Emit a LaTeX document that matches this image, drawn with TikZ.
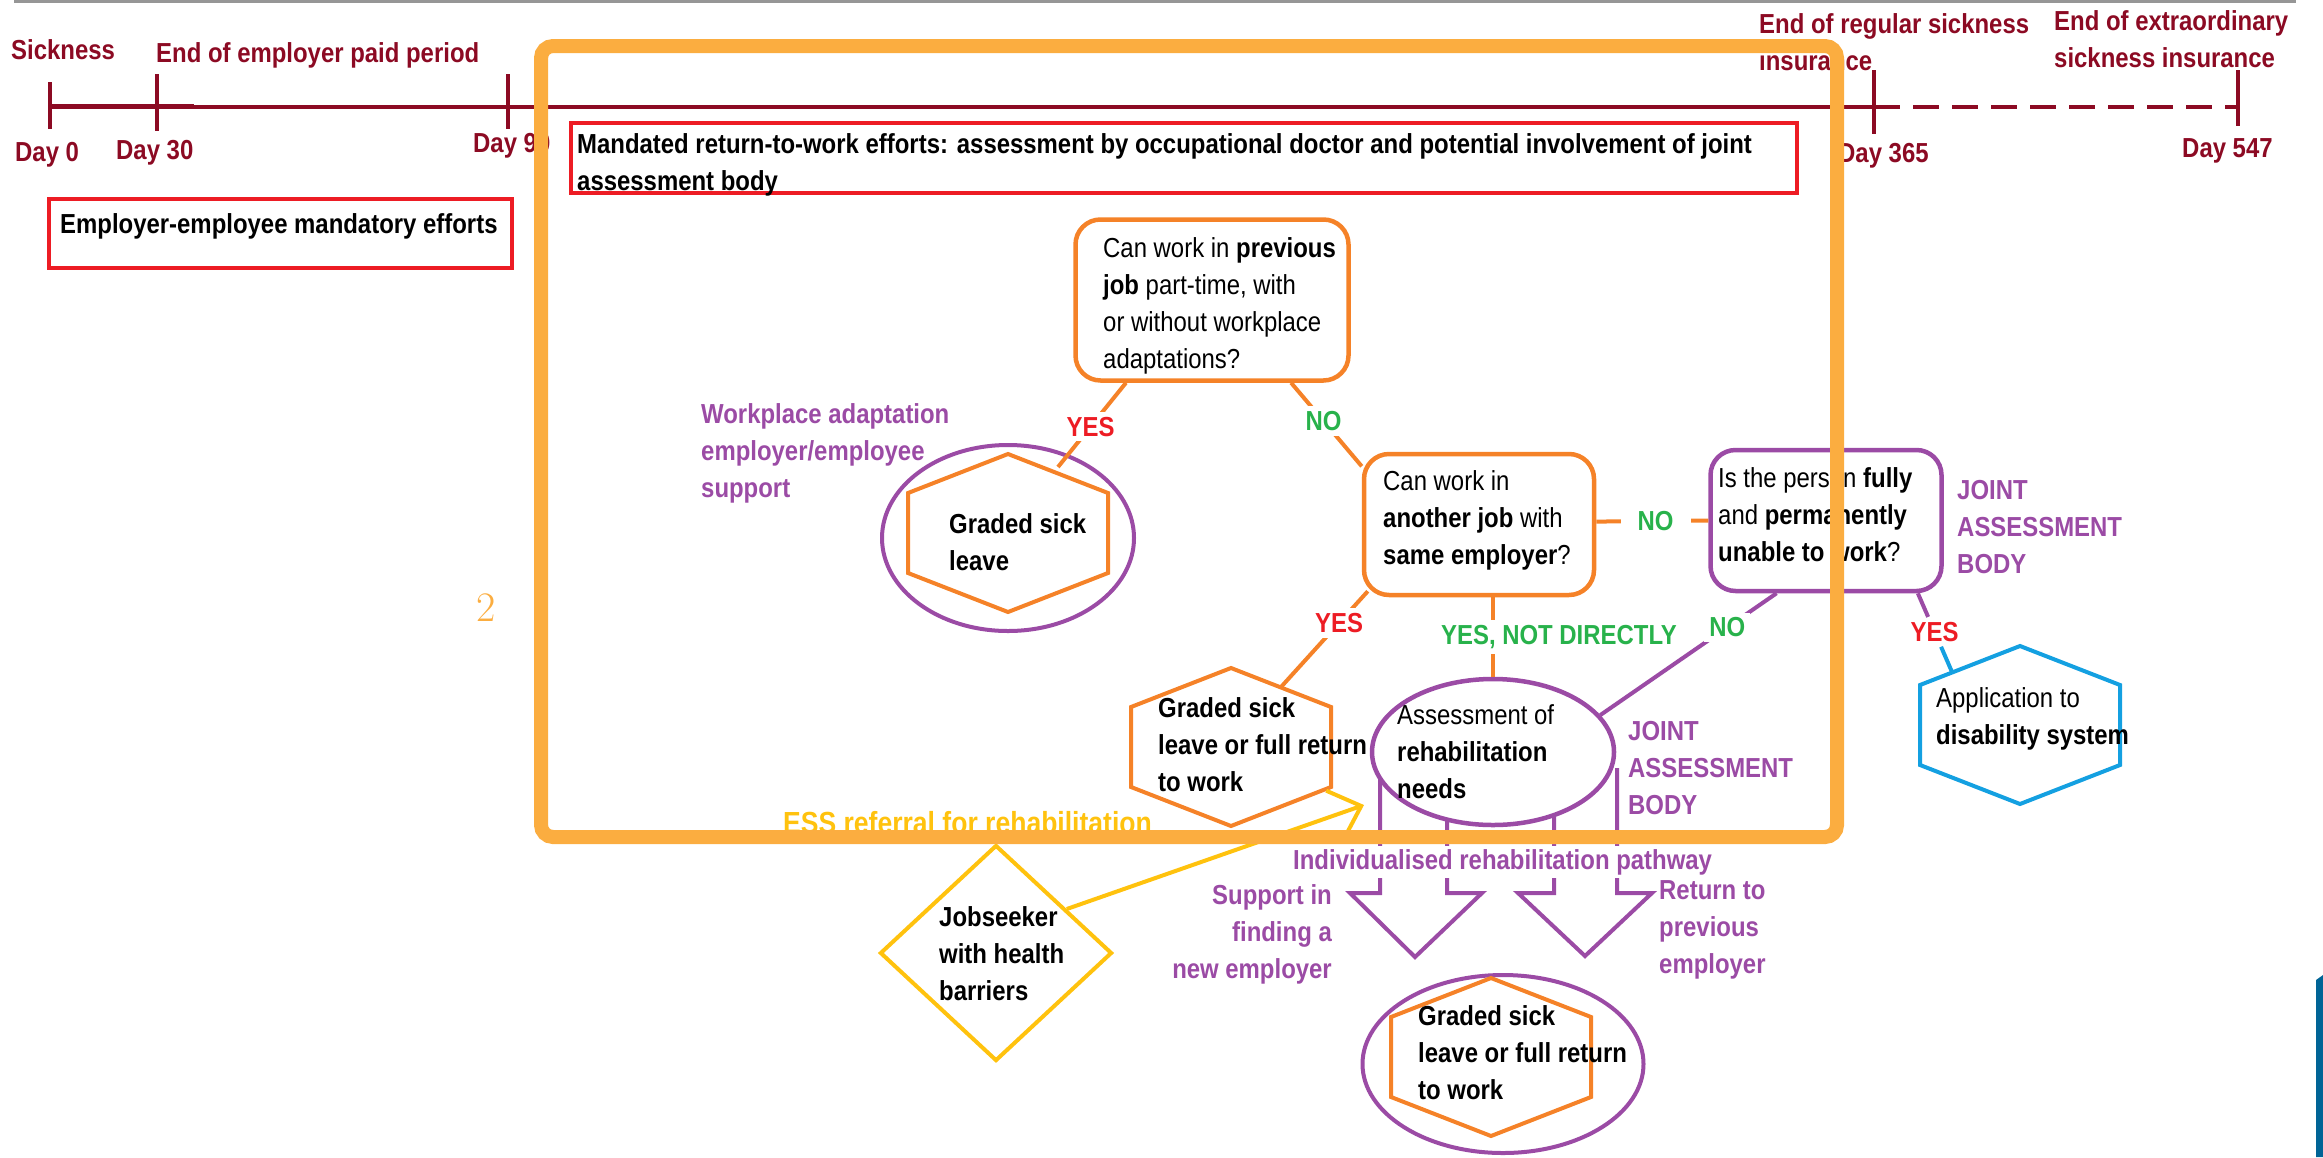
\documentclass[tikz,border=0pt]{standalone}
\usepackage{fontspec}
\setmainfont{Liberation Sans}[FakeStretch=0.87]
\usetikzlibrary{arrows.meta,calc,shapes.geometric}
\definecolor{tlred}{RGB}{140,10,35}
\definecolor{boxred}{RGB}{237,28,36}
\definecolor{frameor}{RGB}{251,173,64}
\definecolor{nodeor}{RGB}{245,130,40}
\definecolor{purp}{RGB}{155,75,165}
\definecolor{grn}{RGB}{40,178,75}
\definecolor{ylw}{RGB}{255,194,14}
\definecolor{blu}{RGB}{20,160,225}
\definecolor{barblue}{RGB}{0,100,150}
\definecolor{topgray}{RGB}{150,150,150}
\newcommand{\myfs}{\fontsize{27.5}{37}\selectfont}
\tikzset{
  pics/hexa/.style={code={\draw[pic actions] (0,-79) -- (100,-40) -- (100,40) -- (0,79) -- (-100,40) -- (-100,-40) -- cycle;}},
  txt/.style={anchor=north west, align=left, inner sep=0pt, text=black, font=\myfs},
  bt/.style={txt, font=\myfs\bfseries},
  tltext/.style={txt, text=tlred, font=\myfs\bfseries},
  purptxt/.style={txt, text=purp, font=\myfs\bfseries},
  lbl/.style={fill=white, inner sep=5pt, font=\myfs\bfseries},
  conn/.style={line width=4pt},
  redbox/.style={draw=boxred, line width=4pt, inner sep=0pt},
  dbox/.style={line width=4.5pt, rounded corners=25pt, inner sep=0pt},
  tick/.style={draw=tlred, line width=4pt},
  blockarrow/.style={draw=purp, line width=4pt, line join=miter},
}
\begin{document}
\begin{tikzpicture}[x=1pt, y=-1pt]
\useasboundingbox (0,0) rectangle (2323,1157);
% top rule
\draw[topgray, line width=2.5pt] (14,1.5) -- (2296,1.5);
% timeline
\draw[tlred, line width=5pt] (49.5,106) -- (194,106);
\draw[tlred, line width=4pt] (194,107) -- (1874,107);
\draw[tlred, line width=4pt, dash pattern=on 26pt off 13pt] (1874,107) -- (2238,107);
\draw[tick] (49.5,82) -- (49.5,129);
\draw[tick] (157,74) -- (157,131);
\draw[tick] (508,74) -- (508,129);
\draw[tick] (1874,70) -- (1874,134);
\draw[tick] (2238,70) -- (2238,126);
\node[tltext] (sick) at (11,39) {Sickness};
\node[tltext] (endemp) at (156,42) {End of employer paid period};
\node[tltext] (endreg) at (1759,13) {End of regular sickness\\insurance};
\node[tltext] (endext) at (2054,10) {End of extraordinary\\sickness insurance};
\node[tltext] (d0) at (15,142) {Day 0};
\node[tltext] (d30) at (116,140) {Day 30};
\node[tltext] (d90) at (473,133) {Day 90};
\node[tltext] (d365) at (1838,143) {Day 365};
\node[tltext] (d547) at (2182,138) {Day 547};
% red boxes
\node[redbox, minimum width=463pt, minimum height=69pt] (effbox) at (280.5,233.5) {};
\node[bt] (efftxt) at (60,213) {Employer-employee mandatory efforts};
\node[redbox, minimum width=1226pt, minimum height=70pt] (mandbox) at (1184,158) {};
\node[bt] (mandtxt) at (577,133) {Mandated return-to-work efforts: assessment by occupational doctor and potential involvement of joint\\assessment body};
% decision boxes
\node[dbox, draw=nodeor, minimum width=273pt, minimum height=161pt] (q1) at (1212,300) {};
\node[txt] (q1t) at (1103,237) {Can work in \textbf{previous}\\\textbf{job} part-time, with\\or without workplace\\adaptations?};
\node[dbox, draw=nodeor, minimum width=230pt, minimum height=141pt] (q2) at (1479,524.5) {};
\node[txt] (q2t) at (1383,470) {Can work in\\\textbf{another job} with\\\textbf{same employer}?};
\node[dbox, draw=purp, minimum width=231pt, minimum height=141pt] (q3) at (1826,520.5) {};
\node[txt] (q3t) at (1718,467) {Is the person \textbf{fully}\\and \textbf{permanently}\\\textbf{unable to work}?};
% graded sick leave (left)
\node[ellipse, draw=purp, line width=4pt, inner sep=0pt, minimum width=252pt, minimum height=186pt] (eA) at (1008,538) {};
\pic[draw=nodeor, line width=4pt] at (1008,533) {hexa};
\node[bt] (hAt) at (949,513) {Graded sick\\leave};
\node[purptxt] (wpa) at (701,403) {Workplace adaptation\\employer/employee\\support};
% graded sick leave or full return (middle)
\pic[draw=nodeor, line width=4pt] at (1231,747) {hexa};
\node[bt] (hBt) at (1158,697) {Graded sick\\leave or full return\\to work};
% assessment of rehabilitation needs
\node[ellipse, draw=purp, line width=4.5pt, inner sep=0pt, minimum width=242pt, minimum height=146pt] (eB) at (1493,752) {};
\node[txt] (eBt) at (1397,704) {Assessment of\\\textbf{rehabilitation}\\\textbf{needs}};
\node[purptxt] (jab2) at (1628,721) {JOINT\\ASSESSMENT\\BODY};
\node[purptxt] (jab1) at (1957,480) {JOINT\\ASSESSMENT\\BODY};
% disability system
\pic[draw=blu, line width=4pt] at (2020,725) {hexa};
\node[txt] (hCt) at (1936,687) {Application to\\\textbf{disability system}};
% jobseeker
\node[diamond, draw=ylw, line width=4pt, inner sep=0pt, minimum width=232pt, minimum height=216pt] (dia) at (996,953) {};
\node[bt] (diat) at (939,906) {Jobseeker\\with health\\barriers};
\node[bt, text=ylw, font=\fontsize{30.5}{37}\selectfont\bfseries] (ess) at (783,811) {ESS referral for rehabilitation};
% bottom outcome
\node[ellipse, draw=purp, line width=4pt, inner sep=0pt, minimum width=281pt, minimum height=178pt] (eC) at (1503,1064) {};
\pic[draw=nodeor, line width=4pt] at (1491,1057) {hexa};
\node[bt] (hDt) at (1418,1005) {Graded sick\\leave or full return\\to work};
% connector end coordinates on hexagons
\coordinate (hAe) at (1058,467);
\coordinate (hBe) at (1281,687);
\coordinate (hCe) at (1952,672);
\coordinate (essend) at (1364,805);
% connectors
\draw[conn, nodeor] ($(q1.south west)!0.19!(q1.south east)$) -- node[lbl, text=boxred, pos=0.52] (yes1) {YES} (hAe);
\draw[conn, nodeor] ($(q1.south west)!0.785!(q1.south east)$) -- node[lbl, text=grn, pos=0.46] (no1) {NO} ($(q2.north west)!0.1!(q2.south west)$);
\draw[conn, nodeor] ($(q2.north east)!0.48!(q2.south east)$) -- node[lbl, text=grn, pos=0.53, inner xsep=17pt] (no2) {NO} ($(q3.north west)!0.5!(q3.south west)$);
\draw[conn, nodeor] ([xshift=6pt, yshift=6pt]q2.south west) -- node[lbl, text=boxred, pos=0.33] (yes2) {YES} (hBe);
\draw[conn, nodeor] (eB.north |- q2.south) -- node[lbl, text=grn, pos=0.5, xshift=66pt] (ynd) {YES, NOT DIRECTLY} (eB.north);
\draw[conn, purp] ($(q3.south west)!0.29!(q3.south east)$) -- node[lbl, text=grn, pos=0.28] (no3) {NO} (eB.19);
\path ($(q3.south west)!0.89!(q3.south east)$) coordinate (q3s) -- node[lbl, text=boxred, pos=0.49] (yes3) {YES} (hCe);
\draw[conn, purp] (q3s) -- (yes3);
\draw[conn, blu] (yes3) -- (hCe);
\draw[ylw, line width=4pt, -{Straight Barb[length=28pt, width=52pt]}] ($(dia.north)!0.6!(dia.east)$) -- (essend);
% pathway block arrows
\draw[blockarrow] (1380,778) -- (1380,893) -- (1350,893) -- (1415,957) -- (1482,893) -- (1447,893) -- (1447,819);
\draw[blockarrow] (1554,815) -- (1554,893) -- (1518,893) -- (1585,956) -- (1652,893) -- (1617,893) -- (1617,768);
\node[purptxt, fill=white, inner ysep=3pt] (path) at (1293,846) {Individualised rehabilitation pathway};
\node[purptxt, anchor=north east, align=right] (sup) at (1332,884) {Support in\\finding a\\new employer};
\node[purptxt] (ret) at (1659,880) {Return to\\previous\\employer};
% number
\node[text=frameor, inner sep=0pt, font=\fontsize{42}{42}\fontfamily{lmr}\selectfont] (two) at (486,608) {2};
% big frame
\draw[frameor, line width=14pt, rounded corners=12pt] (541,46) rectangle (1837,837);
% right edge bar
\fill[barblue] (2316,980) -- (2323,975) -- (2323,1157) -- (2316,1157) -- cycle;
\end{tikzpicture}
\end{document}
